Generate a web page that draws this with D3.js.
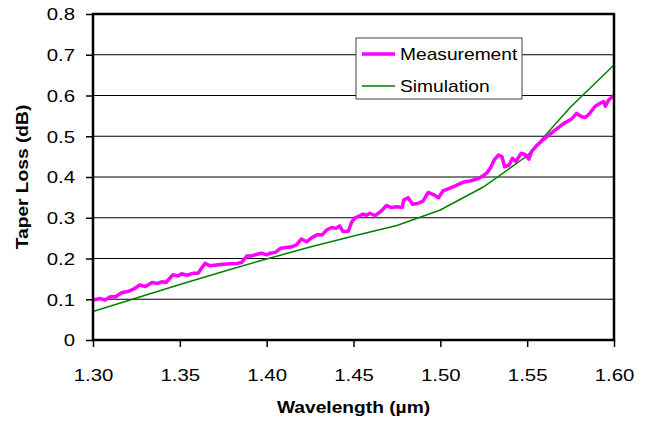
<!DOCTYPE html>
<html>
<head>
<meta charset="utf-8">
<script src="https://cdn.jsdelivr.net/npm/d3@7"></script>
<style>
  body { margin: 0; background: #fff; }
  text { font-family: "Liberation Sans", Arial, sans-serif; fill: #000; }
</style>
</head>
<body>
<div class="chart"></div>
<script>
var measWavelength = [1.300,1.304,1.307,1.310,1.313,1.3165,1.320,1.323,1.327,1.330,1.334,1.337,1.340,1.342,1.346,1.349,1.351,1.354,1.358,1.3605,1.3625,1.3645,1.3675,1.371,1.375,1.379,1.383,1.3855,1.3885,1.391,1.394,1.397,1.400,1.402,1.405,1.408,1.4115,1.4145,1.417,1.420,1.423,1.426,1.429,1.432,1.4345,1.4375,1.440,1.442,1.444,1.447,1.449,1.451,1.4535,1.4555,1.4575,1.4595,1.4625,1.4655,1.467,1.469,1.472,1.475,1.478,1.479,1.4815,1.484,1.487,1.490,1.493,1.496,1.499,1.5015,1.5045,1.508,1.5095,1.513,1.517,1.521,1.524,1.527,1.529,1.531,1.5335,1.5355,1.537,1.5395,1.5415,1.5435,1.5465,1.5485,1.551,1.5525,1.5555,1.5585,1.562,1.566,1.570,1.573,1.5755,1.5785,1.5815,1.5835,1.586,1.589,1.592,1.594,1.595,1.597,1.600];
var measLoss = [0.098,0.102,0.098,0.106,0.106,0.116,0.119,0.124,0.135,0.131,0.141,0.139,0.143,0.141,0.160,0.157,0.163,0.159,0.164,0.164,0.176,0.188,0.182,0.184,0.186,0.187,0.188,0.190,0.206,0.206,0.210,0.213,0.209,0.213,0.215,0.225,0.227,0.229,0.233,0.248,0.241,0.251,0.258,0.258,0.270,0.276,0.274,0.280,0.266,0.267,0.290,0.300,0.305,0.309,0.306,0.311,0.305,0.315,0.321,0.330,0.325,0.327,0.325,0.344,0.349,0.333,0.335,0.341,0.362,0.357,0.349,0.366,0.371,0.377,0.380,0.387,0.390,0.395,0.401,0.411,0.423,0.442,0.454,0.450,0.425,0.429,0.446,0.438,0.458,0.456,0.444,0.462,0.477,0.489,0.501,0.515,0.528,0.536,0.542,0.556,0.548,0.546,0.556,0.573,0.581,0.585,0.574,0.589,0.601];

// Simulated taper loss
var simWavelength = [1.300,1.325,1.350,1.375,1.400,1.425,1.450,1.475,1.500,1.525,1.550,1.575,1.600];
var simLoss = [0.070,0.103,0.136,0.168,0.199,0.228,0.255,0.281,0.319,0.376,0.452,0.572,0.675];

var xTicks = [1.30,1.35,1.40,1.45,1.50,1.55,1.60];
var yTicks = [0,0.1,0.2,0.3,0.4,0.5,0.6,0.7,0.8];
var seriesNames = ["Measurement","Simulation"];

var w = 648, h = 423;
var plotLeft = 93, plotTop = 14, plotRight = 614, plotBottom = 340;
var stretch = "scale(1.2,1)";  //text in the original is a bit wide

var svg = d3.select(".chart")
            .append("svg")
            .attr("width", w)
            .attr("height", h);

var x = d3.scaleLinear().domain([1.30, 1.60]).range([plotLeft, plotRight]);
var y = d3.scaleLinear().domain([0, 0.8]).range([plotBottom, plotTop]);

//Grid lines
svg.append("g")
    .selectAll("line")
    .data(yTicks.slice(1, -1))
    .enter()
    .append("line")
    .attr("x1", plotLeft)
    .attr("x2", plotRight)
    .attr("y1", function(d){ return y(d); })
    .attr("y2", function(d){ return y(d); })
    .attr("stroke", "#000")
    .attr("stroke-width", 1.2);

//Axes
var xAxis = d3.axisBottom(x)
              .tickValues(xTicks)
              .tickSize(7)
              .tickFormat(d3.format(".2f"));

var yAxis = d3.axisLeft(y)
              .tickValues(yTicks)
              .tickSize(7)
              .tickFormat(function(d){ return d === 0 ? "0" : d3.format(".1f")(d); });

var gx = svg.append("g")
    .attr("transform", "translate(0," + plotBottom + ")")
    .call(xAxis);
gx.select(".domain").remove();
gx.selectAll("line").attr("stroke", "#000").attr("stroke-width", 1.5);
gx.selectAll("text")
    .attr("y", 41)
    .attr("dy", 0)
    .attr("transform", stretch)
    .style("font-size", "17px")
    .style("font-family", "Liberation Sans, Arial, sans-serif");

var gy = svg.append("g")
    .attr("transform", "translate(" + plotLeft + ",0)")
    .call(yAxis);
gy.select(".domain").remove();
gy.selectAll("line").attr("stroke", "#000").attr("stroke-width", 1.5);
gy.selectAll("text")
    .attr("x", -15)
    .attr("dy", "0.35em")
    .attr("transform", stretch)
    .style("font-size", "17px")
    .style("font-family", "Liberation Sans, Arial, sans-serif");

//Series lines
var line = d3.line()
             .x(function(d){ return x(d[0]); })
             .y(function(d){ return y(d[1]); });

var simData = d3.zip(simWavelength, simLoss);
var measData = d3.zip(measWavelength, measLoss);

svg.append("path")
    .datum(simData)
    .attr("d", line)
    .attr("fill", "none")
    .attr("stroke", "#008000")
    .attr("stroke-width", 1.5);

svg.append("path")
    .datum(measData)
    .attr("d", line)
    .attr("fill", "none")
    .attr("stroke", "#ff00ff")
    .attr("stroke-width", 3.5)
    .attr("stroke-linejoin", "round");

//Plot frame
svg.append("rect")
    .attr("x", plotLeft)
    .attr("y", plotTop)
    .attr("width", plotRight - plotLeft)
    .attr("height", plotBottom - plotTop)
    .attr("fill", "none")
    .attr("stroke", "#000")
    .attr("stroke-width", 2.5);

//Legend
var legend = svg.append("g").attr("transform", "translate(356,38)");
legend.append("rect")
    .attr("width", 166)
    .attr("height", 61)
    .attr("fill", "#fff")
    .attr("stroke", "#444")
    .attr("stroke-width", 1);

var legendColors = ["#ff00ff", "#008000"];
var legendWidths = [3.5, 1.5];
seriesNames.forEach(function(name, i){
  var ly = 16 + i * 32;
  legend.append("line")
      .attr("x1", 6).attr("x2", 39)
      .attr("y1", ly).attr("y2", ly)
      .attr("stroke", legendColors[i])
      .attr("stroke-width", legendWidths[i]);
  legend.append("text")
      .attr("transform", "translate(44," + (ly + 6) + ") " + stretch)
      .style("font-size", "16px")
      .text(name);
});

//Axis titles
svg.append("text")
    .attr("transform", "translate(" + ((plotLeft + plotRight) / 2) + ",413) " + stretch)
    .attr("text-anchor", "middle")
    .style("font-size", "16px")
    .style("font-weight", "bold")
    .text("Wavelength (µm)");

svg.append("text")
    .attr("transform", "translate(28,177) rotate(-90) " + stretch)
    .attr("text-anchor", "middle")
    .style("font-size", "16px")
    .style("font-weight", "bold")
    .text("Taper Loss (dB)");
</script>
</body>
</html>
